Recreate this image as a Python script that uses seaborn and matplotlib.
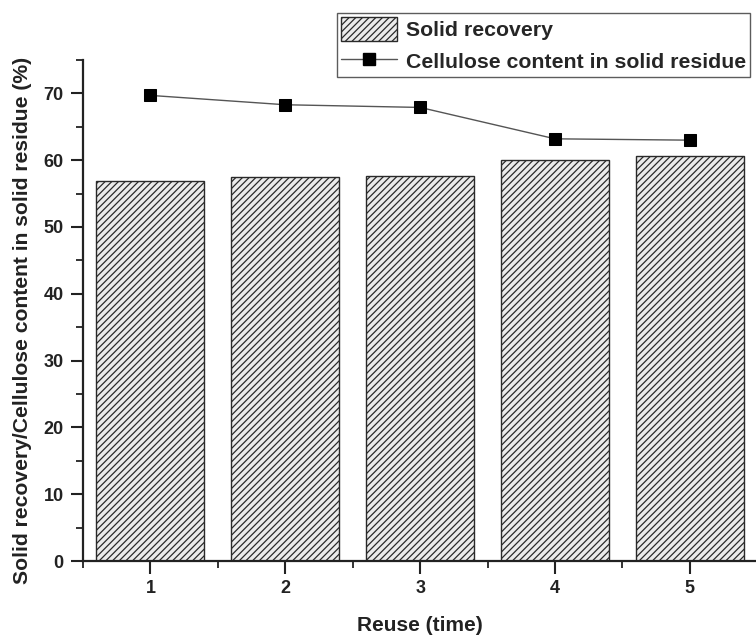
import matplotlib
matplotlib.use("Agg")
import matplotlib.pyplot as plt
import seaborn as sns
import pandas as pd
from matplotlib.patches import Patch
from matplotlib.lines import Line2D
from matplotlib.ticker import MultipleLocator, FixedLocator

reuse = [1, 2, 3, 4, 5]
solid_recovery = [56.9, 57.5, 57.7, 60.1, 60.7]
cellulose = [69.7, 68.3, 67.9, 63.2, 63.0]

sns.set_style("ticks")
plt.rcParams['font.family'] = ['Liberation Sans', 'DejaVu Sans']
plt.rcParams['font.weight'] = 'bold'
plt.rcParams['hatch.color'] = '#6a6a6a'
plt.rcParams['hatch.linewidth'] = 0.9

df = pd.DataFrame({"reuse": reuse, "solid": solid_recovery, "cell": cellulose})

fig = plt.figure(figsize=(7.56, 6.37), dpi=100)
ax = fig.add_axes([83/756, 1-561/637, 1-83/756, (561-60)/637])

sns.barplot(data=df, x="reuse", y="solid", native_scale=True, width=0.8,
            color="#ebebeb", edgecolor="#2a2a2a", linewidth=1.0,
            hatch="/////", ax=ax, saturation=1)
sns.lineplot(data=df, x="reuse", y="cell", color="#555555", linewidth=1.0,
             marker="s", markersize=8, markerfacecolor="black",
             markeredgecolor="black", ax=ax)

ax.set_xlim(0.5, 5.49)
ax.set_ylim(0, 75)
ax.set_xticks(reuse)
ax.xaxis.set_minor_locator(FixedLocator([0.5, 1.5, 2.5, 3.5, 4.5, 5.5]))
ax.yaxis.set_major_locator(MultipleLocator(10))
ax.yaxis.set_minor_locator(MultipleLocator(5))
ax.tick_params(which='major', direction='out', length=9, width=1.5, labelsize=13,
               colors='#222222', pad=5)
ax.tick_params(which='minor', direction='out', length=5, width=1.3, colors='#222222')
for lbl in ax.get_xticklabels() + ax.get_yticklabels():
    lbl.set_fontweight('bold')
for s in ['top', 'right']:
    ax.spines[s].set_visible(False)
for s in ['left', 'bottom']:
    ax.spines[s].set_linewidth(1.6)
    ax.spines[s].set_color('#222222')

ax.set_xlabel("Reuse (time)", fontsize=15, fontweight='bold', color='#222222')
ax.set_ylabel("Solid recovery/Cellulose content in solid residue (%)", fontsize=15.2,
              fontweight='bold', color='#222222')
ax.xaxis.set_label_coords(0.5, (561-616)/501)
ax.yaxis.set_label_coords((32-83)/673, (561-320)/501)

handles = [Patch(facecolor="#ebebeb", edgecolor="#2a2a2a", hatch="/////", linewidth=1.0),
           Line2D([0], [0], color="#555555", linewidth=1.0, marker='s', markersize=8,
                  markerfacecolor='black', markeredgecolor='black')]
leg = fig.legend(handles, ["Solid recovery", "Cellulose content in solid residue"],
                 loc='upper left', bbox_to_anchor=(337/756, 1-13/637),
                 frameon=True, fancybox=False, edgecolor='#333333',
                 prop={'weight': 'bold', 'size': 15.3}, handlelength=2.6,
                 handleheight=1.35, borderpad=0.2, labelspacing=0.38, handletextpad=0.45,
                 borderaxespad=0)
leg.get_frame().set_linewidth(1.0)

fig.savefig("out.png", dpi=100)
